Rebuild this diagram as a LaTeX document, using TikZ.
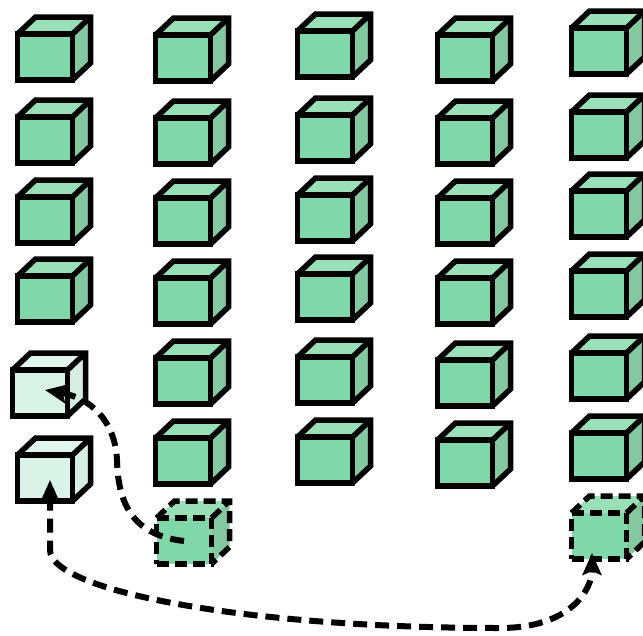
\documentclass[tikz,border=0pt]{standalone}
\usetikzlibrary{arrows.meta, backgrounds, calc}
\definecolor{CubeFront}{HTML}{80D8AA}
\definecolor{CubeTop}{HTML}{99E0B9}
\definecolor{CubeSide}{HTML}{84C8A1}
\definecolor{PaleFront}{HTML}{DAF3E7}
\definecolor{PaleTop}{HTML}{E3F6ED}
\definecolor{PaleSide}{HTML}{D6EDE1}
\tikzset{
  cubefront/.style={rectangle, draw=black, line width=5.5pt, minimum width=55pt,
    minimum height=46pt, inner sep=0pt, outer sep=0pt},
  cubeedge/.style={draw=black, line width=5.5pt},
  ghost/.style={dash pattern=on 12pt off 6pt},
  arr/.style={line width=6pt, dash pattern=on 14pt off 8pt,
    -{Stealth[length=22pt, width=19pt, inset=4pt]}},
  arrboth/.style={arr, {Stealth[length=22pt, width=19pt, inset=4pt]}-{Stealth[length=22pt, width=19pt, inset=4pt]}},
}
\newcommand{\cubedx}{18}
\newcommand{\cubedy}{17}
% #1 line style, #2 name, #3 centre of the front face, #4 shade
\newcommand{\drawcube}[4][solid]{%
  \node (#2) [cubefront, #1, fill=#4Front] at (#3) {};
  \begin{scope}[on background layer]
    \fill[#4Top]  (#2.north west) -- ++(\cubedx,-\cubedy) -- ++(55,0) -- (#2.north east) -- cycle;
    \fill[#4Side] (#2.north east) -- ++(\cubedx,-\cubedy) -- ++(0,46) -- (#2.south east) -- cycle;
    \draw[cubeedge, #1] (#2.north west) -- ++(\cubedx,-\cubedy) -- ++(55,0) -- ++(0,46) -- (#2.south east)
      (#2.north east) -- ++(\cubedx,-\cubedy);
  \end{scope}
}

\begin{document}
\begin{tikzpicture}[x=1pt, y=-1pt]
  \useasboundingbox (0,0) rectangle (643,635);

  % first column: four stacked cubes and two pale ones
  \foreach \r/\y in {1/57, 2/140, 3/220, 4/299}
    \drawcube{a\r}{45,\y}{Cube};
  \drawcube{l1}{40,393}{Pale}
  \drawcube{l2}{45,478}{Pale}

  % middle columns
  \foreach \r/\y in {1/58, 2/141, 3/221, 4/301, 5/381, 6/461}
    \drawcube{b\r}{183,\y}{Cube};
  \drawcube[ghost]{d2}{184,541}{Cube}
  \foreach \r/\y in {1/54, 2/138, 3/218, 4/297, 5/380, 6/460}
    \drawcube{c\r}{325,\y}{Cube};
  \foreach \r/\y in {1/58, 2/141, 3/221, 4/301, 5/383, 6/463}
    \drawcube{e\r}{465,\y}{Cube};

  % last column, cut by the right edge
  \foreach \r/\y in {1/51, 2/135, 3/214, 4/294, 5/376, 6/456}
    \drawcube{f\r}{599,\y}{Cube};
  \drawcube[ghost]{d5}{599,536}{Cube}

  \draw[arr] (d2.center) .. controls (130,535) and (118,500) .. (117,460)
    .. controls (115,420) and (90,398) .. ($(l1.center)+(5,-3)$);
  \draw[arrboth] ($(l2.center)+(5,2)$) -- (50,550)
    .. controls (50,590) and (240,628) .. (500,628)
    .. controls (570,628) and (592,590) .. ($(d5.center)+(-7,17)$);
\end{tikzpicture}
\end{document}
